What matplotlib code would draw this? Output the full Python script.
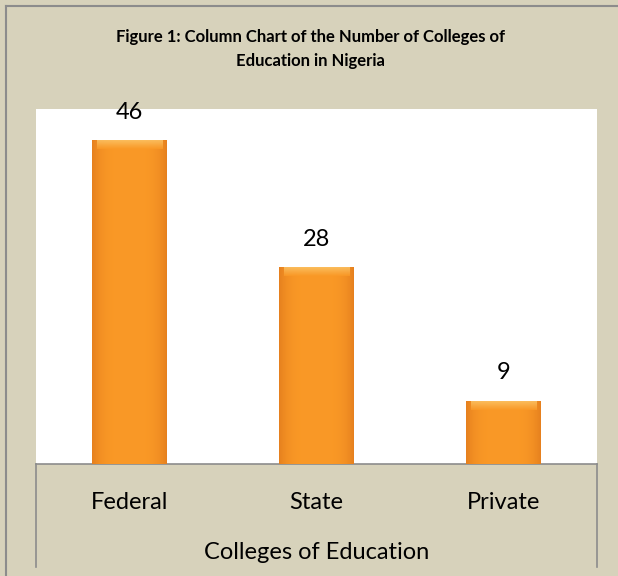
import numpy as np
import matplotlib.pyplot as plt
from matplotlib.lines import Line2D

# Chart data
categories = ['Federal', 'State', 'Private']
colleges = [46, 28, 9]
title = 'Figure 1: Column Chart of the Number of Colleges of\nEducation in Nigeria'
x_label = 'Colleges of Education'

bg = '#D7D2BB'
frame = '#8C8C8C'

plt.rcParams['font.family'] = ['Lato', 'DejaVu Sans']

fig = plt.figure(figsize=(6.18, 5.76), dpi=100, facecolor=bg)
ax = fig.add_axes([36 / 618, 1 - 464 / 576, (597 - 36) / 618, (464 - 109) / 576])
ax.set_facecolor('white')

x = np.arange(len(categories))
bars = ax.bar(x, colleges, width=0.4, color='#F7941F', edgecolor='none', zorder=2)

# gradient shading on each bar to mimic the bevelled look
n = 64
u = np.linspace(0, 1, n)
side = 1 - 0.6 * (np.abs(u - 0.5) * 2) ** 4
base = np.array([0.98, 0.60, 0.15])
dark = np.array([0.85, 0.44, 0.10])
img = np.zeros((1, n, 3))
for i in range(n):
    img[0, i] = dark + (base - dark) * side[i]
# lighter top strip
top = np.zeros((n, 1, 3))
for j in range(n):
    t = j / (n - 1)
    top[j, 0] = np.array([0.99, 0.80, 0.45]) * (1 - t) + base * t
for b in bars:
    x0, y0 = b.get_x(), b.get_y()
    w, h = b.get_width(), b.get_height()
    im = ax.imshow(img, extent=[x0, x0 + w, y0, y0 + h], aspect='auto', zorder=3)
    im.set_clip_path(b)
    im2 = ax.imshow(top, extent=[x0 + w * 0.06, x0 + w * 0.94, y0 + h - 1.3, y0 + h],
                    aspect='auto', zorder=4, alpha=0.8)
    im2.set_clip_path(b)

for xi, v in zip(x, colleges):
    ax.annotate(str(v), (xi, v), xytext=(0, 20), textcoords='offset points',
                ha='center', va='center', fontsize=17, color='black',
                annotation_clip=False, zorder=5)

ax.set_xlim(-0.5, 2.5)
ax.set_ylim(0, 50.4)
ax.set_yticks([])
ax.set_xticks(x)
ax.set_xticklabels(categories, fontsize=17)
ax.tick_params(axis='x', length=0, pad=20)
ax.set_xlabel(x_label, fontsize=17, labelpad=21)
for s in ['top', 'left', 'right']:
    ax.spines[s].set_visible(False)
ax.spines['bottom'].set_color(frame)
ax.spines['bottom'].set_linewidth(1.2)

# box under the axis (left and right sides)
for xp in [36, 597]:
    fig.add_artist(Line2D([xp / 618, xp / 618], [1 - 464 / 576, 1 - 567 / 576],
                          color=frame, lw=1.2))

# outer frame (left and top)
fig.add_artist(Line2D([6 / 618, 6 / 618], [0, 1 - 6 / 576], color=frame, lw=1.5))
fig.add_artist(Line2D([6 / 618, 1], [1 - 6 / 576, 1 - 6 / 576], color=frame, lw=1.5))

fig.text(310 / 618, 1 - 49 / 576, title, ha='center', va='center', fontsize=12,
         fontweight='bold', linespacing=1.6)

plt.savefig('out.png', dpi=100, facecolor=bg)
